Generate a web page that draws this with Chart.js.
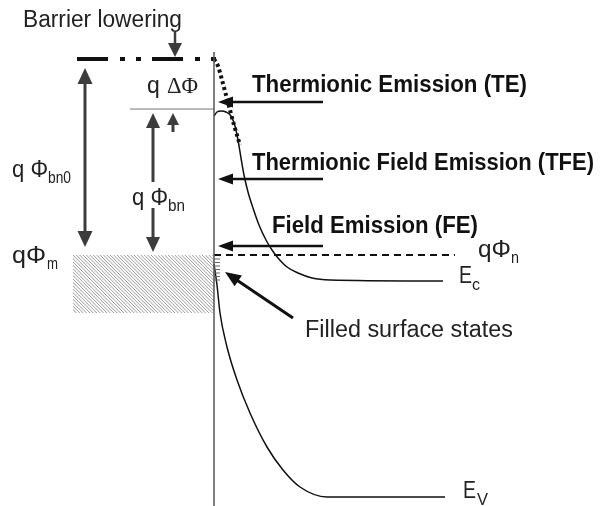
<!DOCTYPE html>
<html>
<head>
<meta charset="utf-8">
<script src="https://cdn.jsdelivr.net/npm/chart.js@4"></script>
<style>
  html, body { margin: 0; padding: 0; background: #fff; }
  canvas { display: block; }
</style>
</head>
<body>
<canvas id="bandChart" width="601" height="506"></canvas>
<script>
// Band diagram data (depth to the right, energy downward as in the figure)
const interfaceX = 214;
const metalLeft = 73;
const barrierTop = 59;     // q Phi_bn0 level
const loweredTop = 109;    // q Phi_bn level
const fermiLevel = 255;    // q Phi_m / q Phi_n
const metalBottom = 313;

// conduction band edge E_c
const ecDepth  = [214, 217, 221, 226, 231, 235, 238, 241, 244, 248, 253, 259, 266, 272, 278, 287, 298, 312, 330, 443];
const ecEnergy = [116, 112, 111, 112, 116, 126, 140, 158, 175, 192, 208, 225, 240, 250, 258, 267, 273, 278, 280, 281];

// valence band edge E_v
const evDepth  = [214, 217, 220, 227, 237, 250, 267, 283, 300, 327, 445];
const evEnergy = [264, 285, 313, 347, 380, 413, 447, 470, 487, 497, 497];

// barrier without image force lowering (dotted)
const teDepth  = [214, 218, 222, 226, 230, 234, 240];
const teEnergy = [59, 66, 80, 95, 110, 125, 145];

// emission paths: arrow rows
const emissionLabels = ["Thermionic Emission (TE)", "Thermionic Field Emission (TFE)", "Field Emission (FE)"];
const emissionArrowLevels = [102, 179, 246];

// filled surface state ticks
const surfaceStates = [259, 262.5, 266, 269.5, 273, 276.5, 280];

function pts(xs, ys) {
  return xs.map((v, i) => ({ x: v, y: ys[i] }));
}

// draw text squeezed/stretched to a given width
function label(ctx, text, x, y, font, width, color) {
  ctx.save();
  ctx.font = font;
  ctx.fillStyle = color || '#1a1a1a';
  ctx.textBaseline = 'alphabetic';
  const w = ctx.measureText(text).width;
  ctx.translate(x, y);
  if (width) ctx.scale(width / w, 1);
  ctx.fillText(text, 0, 0);
  ctx.restore();
}

function head(ctx, x, y, angle, len, wid, color) {
  ctx.save();
  ctx.translate(x, y);
  ctx.rotate(angle);
  ctx.fillStyle = color;
  ctx.beginPath();
  ctx.moveTo(0, 0);
  ctx.lineTo(-len, -wid / 2);
  ctx.lineTo(-len, wid / 2);
  ctx.closePath();
  ctx.fill();
  ctx.restore();
}

// line from (x1,y1) to (x2,y2) with a head at the second point
function arrow(ctx, x1, y1, x2, y2, color, lw, len, wid) {
  const a = Math.atan2(y2 - y1, x2 - x1);
  ctx.save();
  ctx.strokeStyle = color;
  ctx.lineWidth = lw;
  ctx.beginPath();
  ctx.moveTo(x1, y1);
  ctx.lineTo(x2 - Math.cos(a) * len * 0.8, y2 - Math.sin(a) * len * 0.8);
  ctx.stroke();
  ctx.restore();
  head(ctx, x2, y2, a, len, wid, color);
}

const diagramPlugin = {
  id: 'diagram',
  beforeDatasetsDraw(chart) {
    const { ctx, scales: { x, y } } = chart;
    const left = x.getPixelForValue(metalLeft);
    const right = x.getPixelForValue(interfaceX);
    const top = y.getPixelForValue(fermiLevel);
    const bottom = y.getPixelForValue(metalBottom);
    const h = bottom - top;
    // hatched metal
    ctx.save();
    ctx.beginPath();
    ctx.rect(left, top, right - left, h);
    ctx.clip();
    ctx.strokeStyle = '#9a9a9a';
    ctx.lineWidth = 1;
    for (let k = left - h; k < right; k += 3.4) {
      ctx.beginPath();
      ctx.moveTo(k, top);
      ctx.lineTo(k + h, bottom);
      ctx.stroke();
    }
    ctx.restore();
  },
  afterDatasetsDraw(chart) {
    const { ctx, scales: { x, y } } = chart;
    const px = v => x.getPixelForValue(v);
    const py = v => y.getPixelForValue(v);
    const dark = '#3c3c3c';

    // surface states ticks
    ctx.save();
    ctx.strokeStyle = '#666';
    ctx.lineWidth = 1;
    surfaceStates.forEach(s => {
      ctx.beginPath();
      ctx.moveTo(px(interfaceX), py(s));
      ctx.lineTo(px(interfaceX) + 6, py(s));
      ctx.stroke();
    });
    ctx.restore();

    // barrier lowering arrow
    arrow(ctx, 175, 32, 175, py(barrierTop) - 2, dark, 2.5, 14, 14);

    // q Phi_bn0 double arrow
    arrow(ctx, 85, 160, 85, py(barrierTop) + 9, dark, 3, 16, 15);
    arrow(ctx, 85, 160, 85, py(fermiLevel) - 8, dark, 3, 16, 15);

    // q Phi_bn arrow (broken by label)
    arrow(ctx, 153, 182, 153, py(loweredTop) + 4, dark, 3, 15, 14);
    arrow(ctx, 153, 208, 153, py(fermiLevel) - 3, dark, 3, 15, 14);
    // delta phi small arrow
    arrow(ctx, 173, 132, 173, py(loweredTop) + 4, dark, 3, 12, 12);

    // emission arrows
    emissionArrowLevels.forEach(lv => {
      arrow(ctx, 323, py(lv), px(interfaceX) + 4, py(lv), '#111', 2.5, 15, 11);
    });

    // filled surface states pointer
    arrow(ctx, 293, 318, 225, 272, '#111', 3, 16, 13);

    // text
    const sans = '"Liberation Sans", Arial, sans-serif';
    label(ctx, 'Barrier lowering', 23, 27, '23px ' + sans, 159, '#222');
    label(ctx, emissionLabels[0], 252, 92, 'bold 23px ' + sans, 275, '#111');
    label(ctx, emissionLabels[1], 252, 170, 'bold 23px ' + sans, 342, '#111');
    label(ctx, emissionLabels[2], 272, 233, 'bold 23px ' + sans, 206, '#111');
    label(ctx, 'Filled surface states', 305, 337, '23px ' + sans, 208, '#222');

    label(ctx, 'q', 147, 93, '23px ' + sans, null, '#222');
    label(ctx, '\u0394\u03A6', 167, 93, '24px "Liberation Serif", serif', 31, '#222');

    label(ctx, 'q \u03A6', 12, 177, '23px ' + sans, 36, '#222');
    label(ctx, 'bn0', 48, 183, '16px ' + sans, 23, '#222');

    label(ctx, 'q \u03A6', 132, 205, '23px ' + sans, 36, '#222');
    label(ctx, 'bn', 168, 211, '16px ' + sans, 17, '#222');

    label(ctx, 'q\u03A6', 12, 263, '23px ' + sans, 34, '#222');
    label(ctx, 'm', 47, 269, '16px ' + sans, 11, '#222');

    label(ctx, 'q\u03A6', 478, 257, '23px ' + sans, 33, '#222');
    label(ctx, 'n', 511, 263, '16px ' + sans, 8, '#222');

    label(ctx, 'E', 459, 283, '23px ' + sans, 13, '#222');
    label(ctx, 'c', 472, 290, '16px ' + sans, 8, '#222');

    label(ctx, 'E', 463, 498, '23px ' + sans, 13, '#222');
    label(ctx, 'V', 477, 505, '16px ' + sans, 11, '#222');
  }
};

const ctx = document.getElementById('bandChart').getContext('2d');
const bandChart = new Chart(ctx, {
  type: 'scatter',
  data: {
    datasets: [
      {
        // interface
        data: [{ x: interfaceX, y: 52 }, { x: interfaceX, y: 506 }],
        borderColor: '#555',
        borderWidth: 1.5,
      },
      {
        // unlowered barrier height
        data: [{ x: 77, y: barrierTop }, { x: 217, y: barrierTop }],
        borderColor: '#111',
        borderWidth: 4,
        borderDash: [31, 12, 5, 11, 5, 11],
      },
      {
        // lowered barrier reference
        data: [{ x: 130, y: loweredTop }, { x: interfaceX, y: loweredTop }],
        borderColor: '#777',
        borderWidth: 1,
      },
      {
        // Fermi level in semiconductor
        data: [{ x: interfaceX, y: fermiLevel }, { x: 455, y: fermiLevel }],
        borderColor: '#111',
        borderWidth: 2,
        borderDash: [7, 5],
      },
      {
        data: pts(teDepth, teEnergy),
        borderColor: '#111',
        borderWidth: 4,
        borderDash: [3, 3],
        cubicInterpolationMode: 'monotone',
      },
      {
        data: pts(ecDepth, ecEnergy),
        borderColor: '#111',
        borderWidth: 1.5,
        cubicInterpolationMode: 'monotone',
      },
      {
        data: pts(evDepth, evEnergy),
        borderColor: '#111',
        borderWidth: 1.5,
        cubicInterpolationMode: 'monotone',
      },
    ].map(d => Object.assign({ showLine: true, pointRadius: 0, fill: false }, d)),
  },
  options: {
    responsive: false,
    animation: false,
    layout: { padding: 0 },
    scales: {
      x: { type: 'linear', min: 0, max: 601, display: false },
      y: { type: 'linear', min: 0, max: 506, reverse: true, display: false },
    },
    plugins: {
      legend: { display: false },
      tooltip: { enabled: false },
    },
  },
  plugins: [diagramPlugin],
});
</script>
</body>
</html>
